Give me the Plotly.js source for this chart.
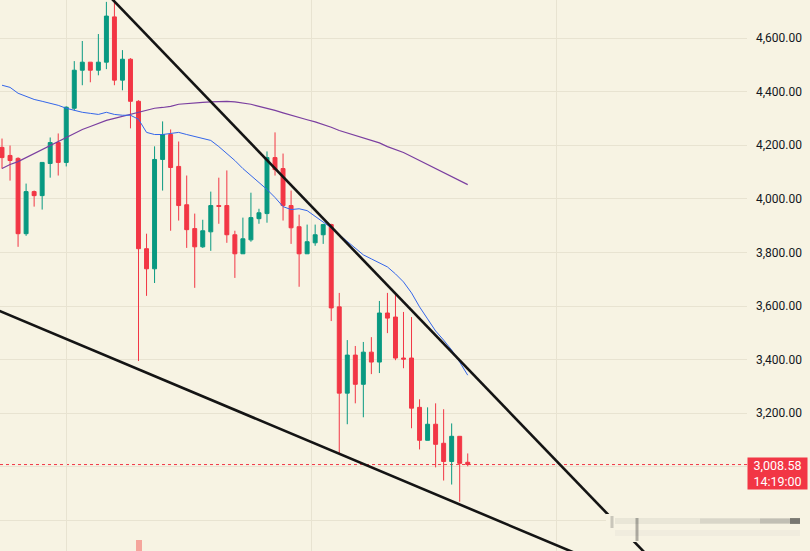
<!DOCTYPE html>
<html>
<head>
<meta charset="utf-8">
<script src="https://cdn.plot.ly/plotly-3.0.1.min.js"></script>
<style>
  html, body { margin: 0; padding: 0; background: #f7f3e3; }
  #chart { width: 810px; height: 551px; }
</style>
</head>
<body>
<div id="chart"></div>
<script>
// ---- Data ----
const openP  = [4192,4162,4151,3870,4027,4012,4132,4210,4136,4338,4480,4510,4480,4510,4679,4443,4521,4364,3814,3739,4147,4240,4121,3978,3889,3821,3877,3975,3975,3866,3795,3847,3926,3945,4154,4113,3975,3896,3795,3836,3866,3904,3597,3275,3417,3308,3428,3391,3574,3559,3406,3406,3222,3099,3159,3088,3020,3114,3017];
const highP  = [4225,4199,4155,4057,4031,4136,4229,4244,4345,4514,4589,4510,4615,4735,4750,4555,4525,4368,3870,4196,4289,4259,4214,4087,3945,3922,4027,4079,4106,3881,3930,4023,3963,4177,4248,4169,4031,3941,3904,3904,3907,3907,3649,3473,3451,3466,3484,3619,3649,3645,3578,3559,3252,3222,3237,3215,3162,3114,3050];
const lowP   = [4113,4068,3821,3862,3971,3960,4079,4087,4121,4330,4424,4435,4461,4484,4424,4405,4263,3395,3638,3686,4031,3881,3919,3817,3668,3817,3806,3907,3836,3705,3795,3840,3907,3911,4087,3919,3832,3672,3795,3825,3832,3544,3050,3159,3237,3185,3346,3350,3499,3398,3368,3144,3065,3099,2998,2949,2934,2870,3002];
const closeP = [4154,4143,3870,4027,4012,4136,4210,4136,4342,4480,4510,4480,4510,4682,4443,4521,4364,3814,3739,4147,4240,4117,3975,3885,3821,3881,3975,3972,3866,3795,3851,3930,3948,4154,4109,3975,3892,3795,3840,3866,3904,3593,3275,3417,3308,3428,3391,3574,3555,3406,3402,3219,3099,3159,3084,3020,3114,3013,3008.58];
const maFast = [4424,4416,4394,4383,4371,4364,4356,4349,4338,4330,4323,4319,4315,4323,4315,4312,4312,4297,4248,4240,4240,4244,4248,4240,4233,4225,4218,4195,4169,4143,4113,4087,4064,4035,4005,3971,3960,3963,3956,3934,3915,3892,3866,3840,3817,3791,3776,3761,3746,3720,3690,3649,3597,3552,3507,3473,3436,3391,3342];
const maSlow = [4113,4128,4139,4154,4169,4184,4199,4214,4229,4244,4259,4270,4282,4293,4300,4308,4315,4323,4330,4338,4341,4345,4353,4356,4358,4360,4362,4364,4364,4362,4358,4353,4345,4338,4330,4321,4312,4302,4295,4287,4278,4267,4255,4246,4239,4229,4220,4209,4195,4184,4173,4158,4143,4128,4113,4098,4083,4068,4053];
const volume = [null,null,null,null,null,null,null,null,null,null,null,null,null,null,null,null,null,100,null,null,null,null,null,null,null,null,null,null,null,null,null,null,null,null,null,null,null,null,null,null,null,null,null,null,null,null,null,null,null,null,null,null,null,null,null,null,null,null,null];
// price-scale grid levels and their labels (levels hidden behind overlays carry no label)
const priceLevels = [2800, 3000, 3200, 3400, 3600, 3800, 4000, 4200, 4400, 4600];
const priceLabels = ['', '', '3,200.00', '3,400.00', '3,600.00', '3,800.00', '4,000.00', '4,200.00', '4,400.00', '4,600.00'];
// drawn trend lines: [bar index, price]
const upperTrendX = [12, 82];
const upperTrendY = [4798.7, 2618.9];
const lowerTrendX = [-1, 75];
const lowerTrendY = [3590.8, 2632.7];
const lastPrice = 3008.58;
const lastPriceText = "3,008.58";
const countdownText = "14:19:00";

const idx = openP.map((_, i) => i);
const BG = '#f7f3e3';
const GRID = '#e8e3d1';
const UP = '#089981';
const DOWN = '#f23645';

const traces = [
  { type: 'bar', x: idx, y: volume, yaxis: 'y2', width: 0.75,
    marker: { color: '#f5a59c', line: { width: 0 } }, hoverinfo: 'skip', showlegend: false },
  { type: 'scatter', mode: 'lines', x: idx, y: maSlow,
    line: { color: '#7b3fa0', width: 1.2 }, hoverinfo: 'skip', showlegend: false },
  { type: 'scatter', mode: 'lines', x: idx, y: maFast,
    line: { color: '#3466ea', width: 1 }, hoverinfo: 'skip', showlegend: false },
  { type: 'candlestick', x: idx, open: openP, high: highP, low: lowP, close: closeP,
    increasing: { line: { color: UP, width: 1 }, fillcolor: UP },
    decreasing: { line: { color: DOWN, width: 1 }, fillcolor: DOWN },
    whiskerwidth: 0, hoverinfo: 'skip', showlegend: false },
  { type: 'scatter', mode: 'lines', x: upperTrendX, y: upperTrendY,
    line: { color: '#141414', width: 2.6 }, hoverinfo: 'skip', showlegend: false },
  { type: 'scatter', mode: 'lines', x: lowerTrendX, y: lowerTrendY,
    line: { color: '#141414', width: 2.6 }, hoverinfo: 'skip', showlegend: false }
];

const W = 747, H = 551;
const px = v => v / W;
const py = v => 1 - v / H;

const layout = {
  width: 810, height: 551,
  margin: { l: 0, r: 63, t: 0, b: 0, pad: 0 },
  paper_bgcolor: BG, plot_bgcolor: BG,
  showlegend: false,
  bargap: 0,
  xaxis: {
    range: [-0.25, 92.78], showticklabels: false, ticks: '',
    showgrid: true, gridcolor: GRID, gridwidth: 1,
    tick0: 7.97, dtick: 30.57, zeroline: false, showline: false,
    rangeslider: { visible: false }, fixedrange: true
  },
  yaxis: {
    side: 'right', range: [2686, 4742],
    tickmode: 'array', tickvals: priceLevels, ticktext: priceLabels,
    ticks: '', showline: false, zeroline: false,
    showgrid: true, gridcolor: GRID, gridwidth: 1,
    ticklabelstandoff: 8,
    tickfont: { family: 'Roboto, Arial, sans-serif', size: 12, color: '#131722' },
    fixedrange: true
  },
  yaxis2: { overlaying: 'y', range: [70, 1573], visible: false, fixedrange: true },
  shapes: [
    { type: 'line', xref: 'paper', x0: 0, x1: 1, yref: 'y', y0: lastPrice, y1: lastPrice,
      line: { color: DOWN, width: 1, dash: 'dot' }, layer: 'below' },
    // blurred overlay bar bottom-right
    { type: 'rect', xref: 'paper', yref: 'paper', x0: px(606), x1: px(812), y0: py(542), y1: py(514),
      fillcolor: BG, line: { width: 0 }, layer: 'above' },
    { type: 'line', xref: 'paper', yref: 'paper', x0: px(615), x1: px(800), y0: py(521), y1: py(521),
      line: { color: 'rgba(120,120,120,0.10)', width: 6 }, layer: 'above' },
    { type: 'line', xref: 'paper', yref: 'paper', x0: px(615), x1: px(800), y0: py(533), y1: py(533),
      line: { color: 'rgba(150,150,150,0.07)', width: 6 }, layer: 'above' },
    { type: 'line', xref: 'paper', yref: 'paper', x0: px(700), x1: px(800), y0: py(521), y1: py(521),
      line: { color: 'rgba(80,80,80,0.10)', width: 5 }, layer: 'above' },
    { type: 'line', xref: 'paper', yref: 'paper', x0: px(760), x1: px(800), y0: py(521), y1: py(521),
      line: { color: 'rgba(60,60,60,0.15)', width: 5 }, layer: 'above' },
    { type: 'line', xref: 'paper', yref: 'paper', x0: px(790), x1: px(800), y0: py(521), y1: py(521),
      line: { color: 'rgba(30,30,30,0.45)', width: 6 }, layer: 'above' },
    { type: 'line', xref: 'paper', yref: 'paper', x0: px(612), x1: px(612), y0: py(528), y1: py(516),
      line: { color: 'rgba(40,40,40,0.22)', width: 3 }, layer: 'above' },
    { type: 'line', xref: 'paper', yref: 'paper', x0: px(637), x1: px(637), y0: py(541), y1: py(518),
      line: { color: 'rgba(40,40,40,0.35)', width: 3 }, layer: 'above' }
  ],
  annotations: [
    { xref: 'paper', x: 1, xanchor: 'left', xshift: 0,
      yref: 'y', y: lastPrice, yanchor: 'top', yshift: 8,
      text: lastPriceText + '<br>' + countdownText, showarrow: false,
      align: 'center', bgcolor: DOWN, borderpad: 2, width: 55, height: 27,
      font: { family: 'Roboto, Arial, sans-serif', size: 12.5, color: '#ffffff' } }
  ]
};

Plotly.newPlot('chart', traces, layout, { staticPlot: true, displayModeBar: false });
</script>
</body>
</html>
